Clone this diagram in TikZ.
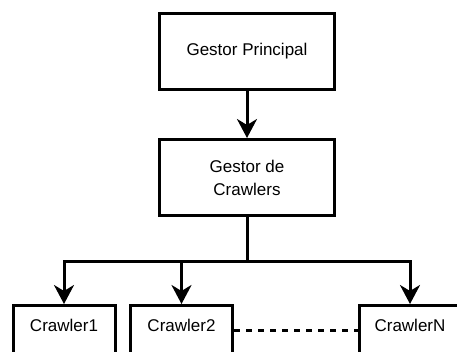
\documentclass[tikz,border=0pt]{standalone}
\usepackage{fontspec}
\setmainfont{Liberation Sans}
\usetikzlibrary{arrows.meta}
\begin{document}
\begin{tikzpicture}[x=1pt,y=-1pt,
  box/.style={draw=black, line width=3pt, fill=white, align=center,
    font=\fontsize{17}{23}\selectfont, inner sep=0pt},
  bigbox/.style={box, minimum width=175pt, minimum height=76pt},
  crawlbox/.style={box, minimum width=102pt, text height=12pt, text depth=60pt, inner ysep=13.5pt, anchor=north},
  conn/.style={line width=3pt, -{Stealth[length=19pt,width=20pt,inset=6pt]}},
  plain/.style={line width=3pt}
]
\useasboundingbox (0,0) rectangle (457,351);
\clip (0,0) rectangle (457,351);
\fill[white] (0,0) rectangle (457,351);
\node[bigbox] (gp) at (247,51.5) {Gestor Principal};
\node[bigbox] (gc) at (247,177.5) {Gestor de\\Crawlers};
\node[crawlbox] (c1) at (64,304) {Crawler1};
\node[crawlbox] (c2) at (181.5,304) {Crawler2};
\node[crawlbox] (cn) at (410,304) {CrawlerN};
\coordinate (j) at (247,261);
\draw[conn] (gp) -- (gc);
\draw[plain] (gc.south) -- (j);
\draw[conn] (j) -| (c1.north);
\draw[conn] (j) -| (c2.north);
\draw[conn] (j) -| (cn.north);
\draw[line width=3pt, dash pattern=on 6pt off 6pt] (c2.east |- 0,330) -- (cn.west |- 0,330);
\end{tikzpicture}
\end{document}
